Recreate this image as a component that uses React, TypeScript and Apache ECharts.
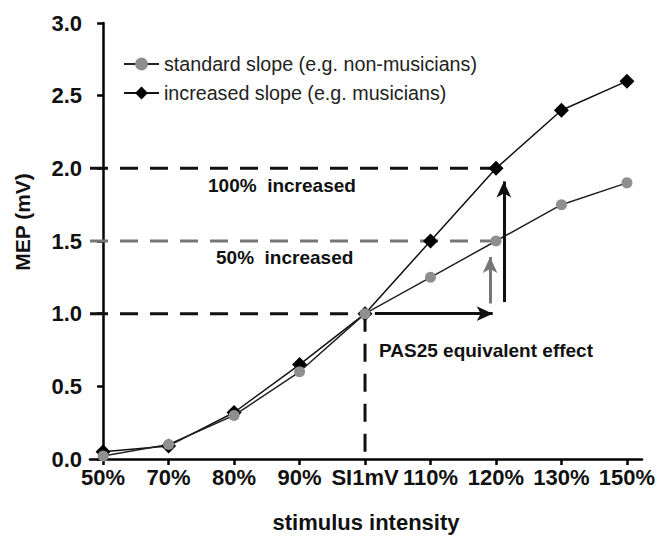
import React, { useEffect, useRef } from "react";
import * as echarts from "echarts";

const categories = ["50%", "70%", "80%", "90%", "SI1mV", "110%", "120%", "130%", "150%"];
const standardSlope = [0.02, 0.1, 0.3, 0.6, 1.0, 1.25, 1.5, 1.75, 1.9];
const increasedSlope = [0.05, 0.09, 0.32, 0.65, 1.0, 1.5, 2.0, 2.4, 2.6];

const standardName = "standard slope (e.g. non-musicians)";
const increasedName = "increased slope (e.g. musicians)";

// guide lines / arrows in data coordinates [x index, MEP]
const guide200 = [[-0.2, 2.0], [6, 2.0]];
const guide150 = [[-0.2, 1.5], [6, 1.5]];
const guide100 = [[-0.2, 1.0], [4, 1.0]];
const guideVertical = [[4, 1.0], [4, 0]];
const arrowHorizontal = [[4.15, 1.0], [5.95, 1.0]];
const arrowBlack = [[6.12, 1.08], [6.12, 1.91]];
const arrowGrey = [[5.91, 1.07], [5.91, 1.39]];

const FONT = "'Liberation Sans', Arial, sans-serif";

export default function App() {
  const ref = useRef<HTMLDivElement>(null);
  useEffect(() => {
    if (!ref.current) return;
    const chart = echarts.init(ref.current, null, { renderer: "svg" });
    const dashed = (data: number[][], color: string) => ({
      type: "line",
      data,
      symbol: "none",
      silent: true,
      z: 1,
      lineStyle: { color, width: 3, type: [18, 12] },
    });
    const arrow = (data: number[][], color: string) => ({
      type: "line",
      data: [],
      silent: true,
      markLine: {
        silent: true,
        animation: false,
        symbol: ["none", "arrow"],
        symbolSize: [11, 16],
        label: { show: false },
        lineStyle: { color, width: 3, type: "solid" },
        data: [[{ coord: data[0] }, { coord: data[1] }]],
      },
    });
    chart.setOption({
      animation: false,
      backgroundColor: "#fff",
      textStyle: { fontFamily: FONT },
      grid: { left: 90, right: 19, top: 23, bottom: 71, containLabel: false },
      legend: {
        orient: "vertical",
        left: 123,
        top: 54,
        padding: 0,
        itemWidth: 35,
        itemHeight: 16,
        itemGap: 9,
        data: [standardName, increasedName],
        textStyle: { fontSize: 19.7, color: "#222", fontFamily: FONT },
      },
      xAxis: {
        type: "value",
        min: -0.2,
        max: 8.23,
        splitLine: { show: false },
        axisLine: { show: true, lineStyle: { color: "#000", width: 2.5 } },
        axisTick: { show: true, length: 6, lineStyle: { color: "#000", width: 2.5 }, customValues: categories.map((_, i) => i) },
        axisLabel: {
          customValues: categories.map((_, i) => i),
          formatter: (v: number) => categories[Math.round(v)] ?? "",
          fontSize: 22,
          fontWeight: "bold",
          color: "#111",
          margin: 7,
          fontFamily: FONT,
        },
        name: "stimulus intensity",
        nameLocation: "middle",
        nameGap: 52,
        nameTextStyle: { fontSize: 22, fontWeight: "bold", color: "#111", fontFamily: FONT },
      },
      yAxis: {
        type: "value",
        min: 0,
        max: 3,
        interval: 0.5,
        splitLine: { show: false },
        axisLine: { show: true, lineStyle: { color: "#000", width: 2.5 } },
        axisTick: { show: true, length: 6, lineStyle: { color: "#000", width: 2.5 } },
        axisLabel: {
          formatter: (v: number) => v.toFixed(1),
          fontSize: 22,
          fontWeight: "bold",
          color: "#111",
          margin: 8,
          fontFamily: FONT,
        },
      },
      graphic: [
        {
          type: "text",
          x: 22,
          y: 222,
          rotation: Math.PI / 2,
          style: { text: "MEP (mV)", fontSize: 21, fontWeight: "bold", fill: "#111", fontFamily: FONT, align: "center", verticalAlign: "middle" },
        },
        {
          type: "text",
          x: 208,
          y: 185,
          style: { text: "100%  increased", fontSize: 19, fontWeight: "bold", fill: "#111", fontFamily: FONT, verticalAlign: "middle" },
        },
        {
          type: "text",
          x: 216,
          y: 257,
          style: { text: "50%  increased", fontSize: 19, fontWeight: "bold", fill: "#111", fontFamily: FONT, verticalAlign: "middle" },
        },
        {
          type: "text",
          x: 379,
          y: 350,
          style: { text: "PAS25 equivalent effect", fontSize: 19, fontWeight: "bold", fill: "#111", fontFamily: FONT, verticalAlign: "middle" },
        },
      ],
      series: [
        dashed(guide200, "#111"),
        dashed(guide150, "#777"),
        dashed(guide100, "#111"),
        dashed(guideVertical, "#111"),
        arrow(arrowHorizontal, "#111"),
        arrow(arrowBlack, "#111"),
        arrow(arrowGrey, "#777"),
        {
          name: increasedName,
          type: "line",
          z: 3,
          data: increasedSlope.map((v, i) => [i, v]),
          symbol: "diamond",
          symbolSize: 15,
          itemStyle: { color: "#000" },
          lineStyle: { color: "#111", width: 1.5 },
        },
        {
          name: standardName,
          type: "line",
          z: 4,
          data: standardSlope.map((v, i) => [i, v]),
          symbol: "circle",
          symbolSize: 11,
          itemStyle: { color: "#8f8f8f" },
          lineStyle: { color: "#222", width: 1.5 },
        },
      ],
    });
    return () => chart.dispose();
  }, []);
  return <div ref={ref} style={{ width: 661, height: 538, position: "absolute", left: 0, top: 0 }} />;
}
